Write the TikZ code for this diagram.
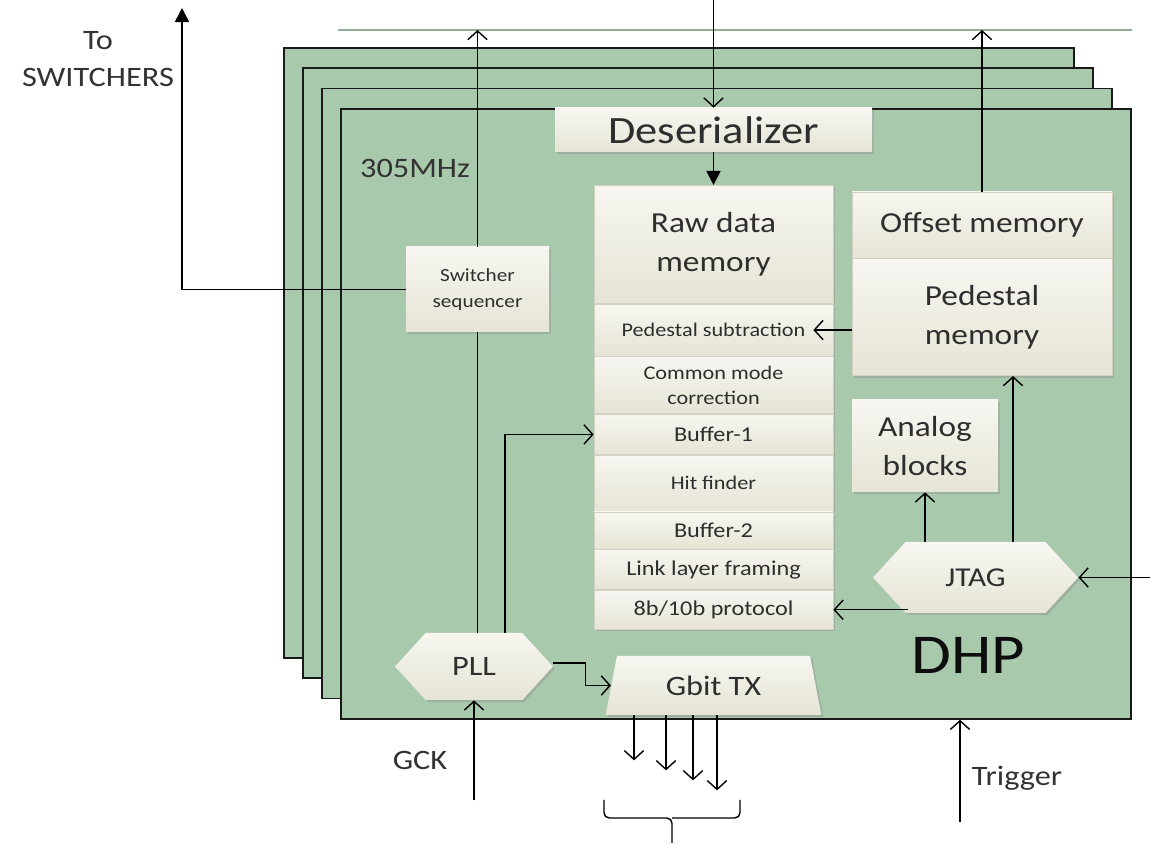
\documentclass[tikz,border=0pt]{standalone}
\usepackage{fontspec}
\setmainfont{Carlito}[FakeStretch=1.15]
\usepackage{tikz}
\usetikzlibrary{
  arrows.meta,
  positioning,
  shapes.geometric,
  shapes.symbols,
  calc,
  shadows
}
\definecolor{boardgreen}{HTML}{A9C9AD}
\definecolor{boxtop}{HTML}{F7F6F1}
\definecolor{boxbot}{HTML}{E6E4D5}
\definecolor{sepline}{HTML}{D2D0C0}
\definecolor{txt}{HTML}{2E2E2E}
\definecolor{busline}{HTML}{8FAE95}

\begin{document}
\begin{tikzpicture}[x=1cm, y=-1cm,
  boardbox/.style={rectangle, draw=black!90, line width=1pt, fill=boardgreen, minimum width=15.8cm, minimum height=12.2cm, anchor=north west},
  blk/.style={rectangle, top color=boxtop, bottom color=boxbot, text=txt, align=center, inner sep=1pt, drop shadow={shadow xshift=1.2pt, shadow yshift=-1.2pt, opacity=0.3}},
  bigfont/.style={font=\fontsize{16.5}{22}\selectfont},
  smallfont/.style={font=\fontsize{11}{14}\selectfont},
  slice/.style={blk, smallfont, draw=sepline, line width=0.4pt, minimum width=4.78cm},
  hexa/.style={blk, signal, signal to=west and east, signal pointer angle=95},
  arr/.style={-{Straight Barb[length=5pt, width=11pt]}, line width=0.8pt},
  arrfill/.style={-{Triangle[length=8pt, width=8pt]}, line width=0.9pt},
  lbl/.style={text=black!80, font=\fontsize{16}{19}\selectfont},
]
\useasboundingbox (0,0) rectangle (23,16.9);

% stacked DHP chips
\foreach \k in {3,2,1}
  \node[boardbox] (board\k) at ({6.80-0.38*\k},{2.16-0.407*\k}) {};
\node[boardbox] (dhp) at (6.80,2.16) {};

\coordinate (top) at (0,0);
\coordinate (busL) at (6.76,0.6);
\coordinate (busR) at (22.64,0.6);
\draw[busline, line width=0.8pt] (busL) -- (busR);

\node[lbl] (freq) at (8.3,3.36) {305MHz};
\node[lbl, align=center] (toswitch) at (1.96,1.18) {To\\[2pt]SWITCHERS};
\node[lbl] (gck) at (8.4,15.2) {GCK};
\node[lbl] (trigger) at (20.34,15.56) {Trigger};
\node[font=\fontsize{32}{36}\selectfont, text=black!95] (dhplbl) at (19.36,13.1) {DHP};

\node[blk, font=\fontsize{22}{24}\selectfont, minimum width=6.34cm, minimum height=0.88cm] (deser) at (14.27,2.6) {Deserializer};

% processing chain
\node[slice, bigfont, minimum height=2.36cm, anchor=north] (raw) at (14.27,3.7) {Raw data\\memory};
\node[slice, minimum height=1.04cm, below=0pt of raw] (pedsub) {Pedestal subtraction};
\node[slice, minimum height=1.14cm, below=0pt of pedsub] (cmc) {Common mode\\correction};
\node[slice, minimum height=0.8cm, below=0pt of cmc, font=\fontsize{12}{14}\selectfont] (buf1) {Buffer-1};
\node[slice, minimum height=1.12cm, below=0pt of buf1] (hit) {Hit finder};
\node[slice, minimum height=0.74cm, below=0pt of hit, font=\fontsize{12}{14}\selectfont] (buf2) {Buffer-2};
\node[slice, minimum height=0.8cm, below=0pt of buf2, font=\fontsize{12}{14}\selectfont] (link) {Link layer framing};
\node[slice, minimum height=0.78cm, below=0pt of link, font=\fontsize{12}{14}\selectfont] (p8b10b) {8b/10b protocol};

\node[blk, bigfont, draw=sepline, line width=0.4pt, minimum width=5.2cm, minimum height=1.32cm] (offset) at (19.64,4.5) {Offset memory};
\node[blk, bigfont, draw=sepline, line width=0.4pt, minimum width=5.2cm, minimum height=2.34cm, below=0pt of offset] (pedmem) {Pedestal\\memory};
\node[blk, bigfont, minimum width=2.92cm, minimum height=1.84cm] (analog) at (18.5,8.92) {Analog\\blocks};
\node[blk, font=\fontsize{10.5}{15}\selectfont, minimum width=2.86cm, minimum height=1.7cm] (seq) at (9.55,5.79) {Switcher\\sequencer};
\node[hexa, font=\fontsize{15.5}{18}\selectfont, minimum width=4.1cm, minimum height=1.42cm] (jtag) at (19.51,11.55) {JTAG};
\node[hexa, font=\fontsize{16}{18}\selectfont, minimum width=3.16cm, minimum height=1.34cm] (pll) at (9.48,13.33) {PLL};
\node[blk, trapezium, trapezium stretches=true, trapezium left angle=76, trapezium right angle=76, font=\fontsize{16}{18}\selectfont, minimum width=4.34cm, minimum height=1.18cm] (gbit) at (14.27,13.71) {Gbit TX};

% connections
\coordinate (swout) at (3.64,0.16);
\draw[arrfill] (seq.west) -| (swout);
\draw[arr] (seq.north) -- (seq.north |- busL);
\draw (seq.south) -- (seq.south |- pll.north);
\coordinate (pllb) at ($(pll.north)+(0.62,0)$);
\draw[arr] (pllb) |- (buf1.west);
\draw[arr] (deser.north |- top) -- (deser.north);
\draw[arrfill] (deser.south) -- (raw.north);
\draw[arr] (offset.north) -- (offset.north |- busL);
\draw[arr] (pedmem.west |- pedsub) -- ($(pedsub.east)+(-0.4,0)$);
\draw[arr] (jtag.north -| analog.south) -- (analog.south);
\coordinate (jt2) at ($(jtag.north)+(0.75,0)$);
\draw[arr] (jt2) -- (jt2 |- pedmem.south);
\draw[arr] ($(jtag.west |- p8b10b.east)+(0.7,0)$) -- (p8b10b.east);
\coordinate (jtagin) at (23,11.55);
\draw[arr] (jtagin) -- (jtag.east);
\draw[arr] ([yshift=2pt]pll.east) -- ++(0.64,0) |- (gbit.west);
\coordinate (gckin) at ($(pll.south)+(0,2.0)$);
\draw[arr] (gckin) -- (pll.south);
\coordinate (trig) at (19.2,16.44);
\draw[arr] (trig) -- (trig |- dhp.south);

% serial links
\foreach \dx/\len in {-1.59/0.9, -0.95/1.1, -0.41/1.3, 0.07/1.5}
  \draw[arr] ($(gbit.south)+(\dx,0)$) -- ++(0,\len);
\draw[line width=0.8pt, rounded corners=3pt] (12.08,16.0) |- (13.44,16.36) -- (13.44,16.86);
\draw[line width=0.8pt, rounded corners=3pt] (14.8,16.0) |- (13.44,16.36);

\end{tikzpicture}
\end{document}
